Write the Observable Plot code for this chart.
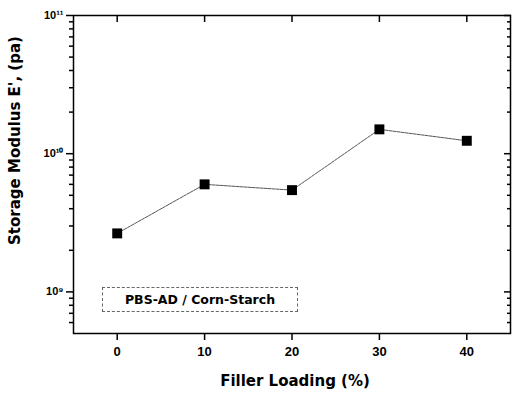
<!DOCTYPE html>
<html>
<head>
<meta charset="utf-8">
<script src="https://cdn.jsdelivr.net/npm/d3@7"></script>
<script src="https://cdn.jsdelivr.net/npm/@observablehq/plot@0.6"></script>
<style>
  html, body { margin: 0; padding: 0; background: #fff; }
  #wrap { position: relative; width: 512px; height: 394px; font-family: "Liberation Sans", Arial, sans-serif; }
  #legend { position: absolute; left: 102px; top: 287px; width: 194px; height: 23px;
    border: 1px dashed #666; font-family: "DejaVu Sans", sans-serif; font-weight: bold; font-size: 12.5px; line-height: 23px; text-align: center; color: #000; }
</style>
</head>
<body>
<div id="wrap"></div>
<script>
const fillerLoading = [0, 10, 20, 30, 40];
const storageModulus = [2.65e9, 6.0e9, 5.45e9, 1.5e10, 1.24e10];
const seriesName = "PBS-AD / Corn-Starch";
const xTicks = [0, 10, 20, 30, 40];
const yMajorTicks = [1e9, 1e10, 1e11];
const yMajorLabels = ["10⁹", "10¹⁰", "10¹¹"];
const yMinorTicks = [6e8, 7e8, 8e8, 9e8, 2e9, 3e9, 4e9, 5e9, 6e9, 7e9, 8e9, 9e9, 2e10, 3e10, 4e10, 5e10, 6e10, 7e10, 8e10, 9e10];
const xTitle = "Filler Loading (%)";
const yTitle = "Storage Modulus E', (pa)";

const data = fillerLoading.map((x, i) => ({x, y: storageModulus[i]}));
const blank = () => "";
const titleFont = "DejaVu Sans, sans-serif";

const chart = Plot.plot({
  width: 512,
  height: 394,
  marginLeft: 73,
  marginRight: 2,
  marginTop: 15,
  marginBottom: 61,
  style: {fontFamily: "Liberation Sans, Arial, sans-serif", color: "#000", background: "#fff"},
  x: {domain: [-5, 45]},
  y: {type: "log", domain: [5e8, 1e11]},
  marks: [
    Plot.axisX(xTicks, {anchor: "bottom", tickSize: 7, tickPadding: 6, fontSize: 13, fontWeight: "bold", strokeWidth: 1.5, label: null}),
    Plot.axisX(xTicks, {anchor: "top", tickSize: 6, dy: 6, tickFormat: blank, strokeWidth: 1.5, label: null}),
    Plot.axisY(yMajorTicks, {anchor: "left", tickSize: 7, tickPadding: 3, fontSize: 11, fontWeight: "bold", strokeWidth: 1.5,
      tickFormat: d => yMajorLabels[yMajorTicks.indexOf(d)], label: null}),
    Plot.axisY(yMinorTicks, {anchor: "left", tickSize: 4, tickFormat: blank, strokeWidth: 1.5, label: null}),
    Plot.axisY(yMajorTicks, {anchor: "right", tickSize: 7, dx: -7, tickFormat: blank, strokeWidth: 1.5, label: null}),
    Plot.axisY(yMinorTicks, {anchor: "right", tickSize: 4, dx: -4, tickFormat: blank, strokeWidth: 1.5, label: null}),
    Plot.frame({strokeWidth: 1.5}),
    Plot.line(data, {x: "x", y: "y", stroke: "#555", strokeWidth: 1, strokeDasharray: "3,1"}),
    Plot.dot(data, {x: "x", y: "y", symbol: "square", r: 5.6, fill: "#000", stroke: "none"}),
    Plot.text([xTitle], {frameAnchor: "bottom", textAnchor: "middle", dx: 3, dy: 52, fontSize: 15, fontWeight: "bold", fontFamily: titleFont, fill: "#000"}),
    Plot.text([yTitle], {frameAnchor: "left", textAnchor: "middle", dx: -58, dy: -34, rotate: -90, fontSize: 15, fontWeight: "bold", fontFamily: titleFont, fill: "#000"})
  ]
});

const wrap = document.getElementById("wrap");
wrap.appendChild(chart);
const legend = document.createElement("div");
legend.id = "legend";
legend.textContent = seriesName;
wrap.appendChild(legend);
</script>
</body>
</html>
